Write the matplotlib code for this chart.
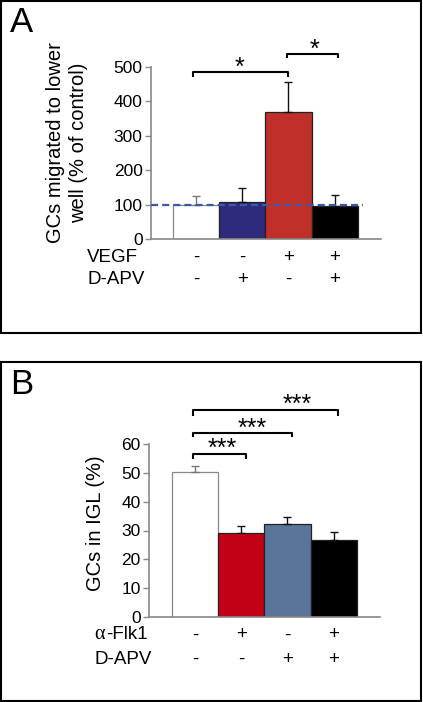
import matplotlib
matplotlib.use("Agg")
import matplotlib.pyplot as plt
from matplotlib.patches import Rectangle

plt.rcParams['font.family'] = ['Liberation Sans', 'DejaVu Sans']

# Panel A data
a_values = [100, 107, 369, 96]
a_errors = [25, 41, 88, 31]
a_colors = ['#ffffff', '#2e2a7c', '#c0302a', '#000000']
a_row1_label = 'VEGF'
a_row1 = ['-', '-', '+', '+']
a_row2_label = 'D-APV'
a_row2 = ['-', '+', '-', '+']
a_yticks = [0, 100, 200, 300, 400, 500]

# Panel B data
b_values = [50.2, 29.1, 32.2, 26.6]
b_errors = [2.3, 2.4, 2.4, 3.0]
b_colors = ['#ffffff', '#c20016', '#5a7599', '#000000']
b_row1_label = '-Flk1'
b_row1 = ['-', '+', '-', '+']
b_row2_label = 'D-APV'
b_row2 = ['-', '-', '+', '+']
b_yticks = [0, 10, 20, 30, 40, 50, 60]

W, H = 423, 702
fig = plt.figure(figsize=(W / 100, H / 100), dpi=100)

TICK_FS = 12.5
ROW_FS = 13.5
LAB_FS = 14.5
STAR_FS = 18


def px_axes(l, r, top, bottom):
    return fig.add_axes([l / W, 1 - bottom / H, (r - l) / W, (bottom - top) / H])


def frame(x0, y0, x1, y1):
    fig.patches.append(Rectangle((x0 / W, 1 - y1 / H), (x1 - x0) / W, (y1 - y0) / H,
                                 transform=fig.transFigure, fill=False,
                                 edgecolor='black', linewidth=1.5))


def style_axes(ax, yticks):
    for s in ['top', 'right']:
        ax.spines[s].set_visible(False)
    for s in ['left', 'bottom']:
        ax.spines[s].set_color('#888888')
        ax.spines[s].set_linewidth(1.2)
    ax.set_xticks([])
    ax.set_yticks(yticks)
    ax.tick_params(axis='y', length=4, width=1, color='#888888', labelsize=TICK_FS, pad=2)
    ax.set_ylim(yticks[0], yticks[-1])


def draw_bars(ax, values, errors, colors):
    x = list(range(len(values)))
    for i in x:
        ec = '#888888' if colors[i] == '#ffffff' else '#222222'
        ax.bar(i, values[i], width=1.0, color=colors[i], edgecolor=ec, linewidth=0.9, zorder=2)
        ecol = '#777777' if colors[i] == '#ffffff' else '#111111'
        ax.errorbar(i, values[i], yerr=[[0], [errors[i]]], fmt='none', ecolor=ecol,
                    elinewidth=1.0, capsize=3, capthick=1.0, zorder=3)


def rows(ax, r1, r2, y1, y2):
    tr = ax.get_xaxis_transform()
    for i, (s1, s2) in enumerate(zip(r1, r2)):
        ax.text(i, y1, s1, transform=tr, fontsize=ROW_FS, ha='center', va='center')
        ax.text(i, y2, s2, transform=tr, fontsize=ROW_FS, ha='center', va='center')


def bracket(ax, x0, x1, y, drop, label, xstar, ystar, fs):
    ax.plot([x0, x0, x1, x1], [y - drop, y, y, y - drop], color='black', lw=1.5,
            clip_on=False, solid_capstyle='butt', zorder=4)
    ax.text(xstar, ystar, label, ha='center', va='baseline', fontsize=fs)


# ---------- Panel A ----------
frame(1, 1, 421, 333)
axA = px_axes(151, 381, 67, 239)
style_axes(axA, a_yticks)
axA.set_xlim(-0.97, 4.0)
draw_bars(axA, a_values, a_errors, a_colors)
axA.axhline(100, xmin=0, xmax=(363 - 151) / 230, color='#3a5aa8', lw=1.6,
            linestyle=(0, (3.2, 1.8)), zorder=5)
rows(axA, a_row1, a_row2, -0.105, -0.233)
trA = axA.get_xaxis_transform()
axA.text(-2.35, -0.105, a_row1_label, transform=trA, fontsize=ROW_FS, ha='left', va='center')
axA.text(-2.35, -0.233, a_row2_label, transform=trA, fontsize=ROW_FS, ha='left', va='center')
bracket(axA, -0.06, 2.0, 485, 14, '*', 0.95, 478, STAR_FS)
bracket(axA, 1.97, 3.07, 538, 12, '*', 2.57, 530, STAR_FS)
fig.text(67 / W, 1 - 143 / H, 'GCs migrated to lower\nwell (% of control)', rotation=90,
         ha='center', va='center', fontsize=LAB_FS, linespacing=1.3, multialignment='center')
fig.text(10 / W, 1 - 23 / H, 'A', fontsize=25, ha='left', va='center')

# ---------- Panel B ----------
frame(1, 362, 421, 701)
axB = px_axes(149, 380, 444, 617)
style_axes(axB, b_yticks)
axB.set_xlim(-0.99, 4.0)
draw_bars(axB, b_values, b_errors, b_colors)
rows(axB, b_row1, b_row2, -0.104, -0.243)
trB = axB.get_xaxis_transform()
axB.text(-2.17, -0.104, 'α', transform=trB, fontsize=ROW_FS + 1, ha='left', va='center',
         family=['Liberation Serif', 'DejaVu Serif'])
axB.text(-1.92, -0.104, b_row1_label, transform=trB, fontsize=ROW_FS, ha='left', va='center')
axB.text(-2.17, -0.243, b_row2_label, transform=trB, fontsize=ROW_FS, ha='left', va='center')
bracket(axB, -0.04, 1.10, 56.7, 1.9, '***', 0.6, 55.9, STAR_FS)
bracket(axB, -0.04, 2.10, 63.9, 1.3, '***', 1.25, 62.9, STAR_FS)
bracket(axB, -0.04, 3.09, 71.8, 2.1, '***', 2.22, 71.2, STAR_FS)
fig.text(95 / W, 1 - 523 / H, 'GCs in IGL (%)', rotation=90,
         ha='center', va='center', fontsize=LAB_FS)
fig.text(10 / W, 1 - 384 / H, 'B', fontsize=25, ha='left', va='center')

fig.savefig('out.png', dpi=100)
